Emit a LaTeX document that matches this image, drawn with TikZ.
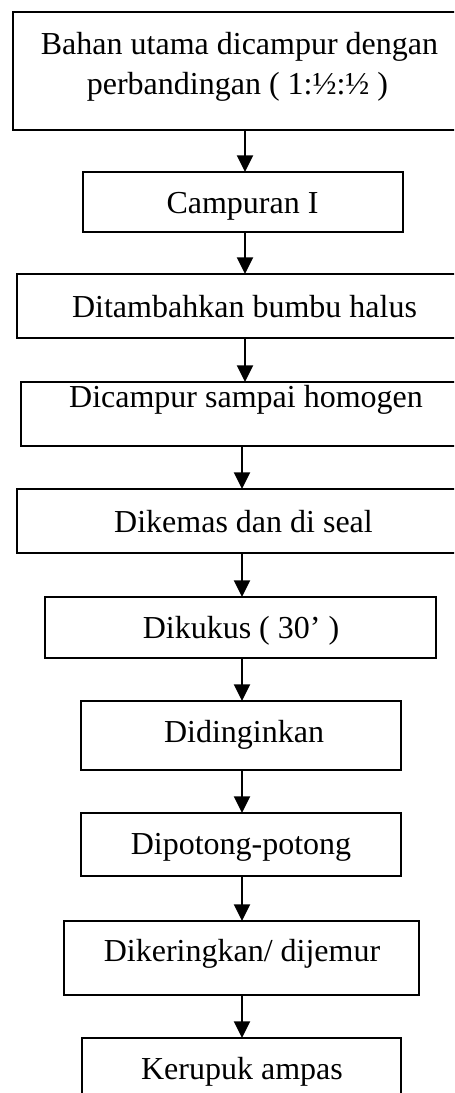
\documentclass[tikz,border=0pt]{standalone}
\usepackage{fontspec}
\setmainfont{Liberation Serif}
\usetikzlibrary{arrows.meta}
\begin{document}
\begin{tikzpicture}[x=0.75pt,y=-0.75pt,
  box/.style={draw=black, line width=1.2pt, rectangle, inner sep=0pt, outer sep=0pt},
  lbl/.style={anchor=base, inner sep=0pt, font=\fontsize{24}{30}\selectfont},
  arr/.style={line width=1.5pt, -{Triangle[width=12pt,length=12.5pt]}}]
\useasboundingbox (0,0) rectangle (454,1093);
\clip (0,0) rectangle (454,1093);
% boxes: center x, center y, width, height
\node[box, minimum width=447*0.75pt, minimum height=118*0.75pt] (b1) at (236.5,71) {};
\node[box, minimum width=320*0.75pt, minimum height=60*0.75pt] (b2) at (243,202) {};
\node[box, minimum width=443*0.75pt, minimum height=64*0.75pt] (b3) at (238.5,306) {};
\node[box, minimum width=439*0.75pt, minimum height=64*0.75pt] (b4) at (240.5,414) {};
\node[box, minimum width=443*0.75pt, minimum height=64*0.75pt] (b5) at (238.5,521) {};
\node[box, minimum width=391*0.75pt, minimum height=61*0.75pt] (b6) at (240.5,627.5) {};
\node[box, minimum width=320*0.75pt, minimum height=69*0.75pt] (b7) at (241,735.5) {};
\node[box, minimum width=320*0.75pt, minimum height=63*0.75pt] (b8) at (241,844.5) {};
\node[box, minimum width=355*0.75pt, minimum height=74*0.75pt] (b9) at (241.5,958) {};
\node[box, minimum width=319*0.75pt, minimum height=62*0.75pt] (b10) at (241.5,1069) {};
% texts
\node[lbl] (t1a) at (239.5,54) {Bahan utama dicampur dengan};
\node[lbl] (t1b) at (237.5,94) {perbandingan ( 1:½:½ )};
\node[lbl] (t2) at (242.5,213) {Campuran I};
\node[lbl] (t3) at (244.5,317) {Ditambahkan bumbu halus};
\node[lbl] (t4) at (246,407) {Dicampur sampai homogen};
\node[lbl] (t5) at (243.5,532) {Dikemas dan di seal};
\node[lbl] (t6) at (241,638) {Dikukus ( 30’ )};
\node[lbl] (t7) at (244,742) {Didinginkan};
\node[lbl] (t8) at (241,854) {Dipotong-potong};
\node[lbl] (t9) at (242,961) {Dikeringkan/ dijemur};
\node[lbl] (t10) at (242,1079) {Kerupuk ampas};
% arrow columns
\coordinate (xa) at (245,0);
\coordinate (xb) at (242,0);
\draw[arr] (b1.south -| xa) -- (b2.north -| xa);
\draw[arr] (b2.south -| xa) -- (b3.north -| xa);
\draw[arr] (b3.south -| xa) -- (b4.north -| xa);
\draw[arr] (b4.south -| xb) -- (b5.north -| xb);
\draw[arr] (b5.south -| xb) -- (b6.north -| xb);
\draw[arr] (b6.south -| xb) -- (b7.north -| xb);
\draw[arr] (b7.south -| xb) -- (b8.north -| xb);
\draw[arr] (b8.south -| xb) -- (b9.north -| xb);
\draw[arr] (b9.south -| xb) -- (b10.north -| xb);
\end{tikzpicture}
\end{document}
